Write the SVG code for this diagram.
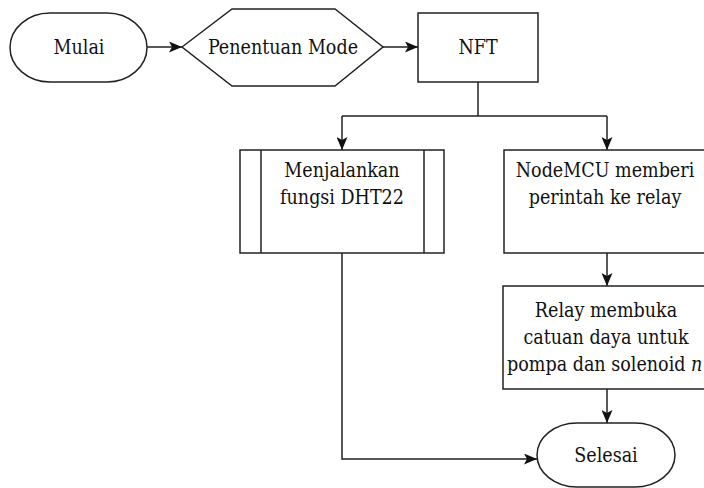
<svg xmlns="http://www.w3.org/2000/svg" width="704" height="488" viewBox="0 0 704 488">
<style>
.s{fill:#fff;stroke:#222;stroke-width:1.5}
.c{fill:none;stroke:#222;stroke-width:1.5}
</style>
<defs>
<marker id="ah" viewBox="0 0 13 11" refX="13" refY="5.5" markerWidth="13" markerHeight="11" markerUnits="userSpaceOnUse" orient="auto">
<path d="M0,0 L13,5.5 L0,11 L3,5.5 Z" fill="#111"/>
</marker>
</defs>
<rect width="704" height="488" fill="#fff"/>
<g id="connectors">
<path class="c" d="M147,47 H182" marker-end="url(#ah)"/>
<path class="c" d="M383,47 H418" marker-end="url(#ah)"/>
<path class="c" d="M478,82 V116"/>
<path class="c" d="M342,116 H607"/>
<path class="c" d="M342,116 V150" marker-end="url(#ah)"/>
<path class="c" d="M607,116 V150" marker-end="url(#ah)"/>
<path class="c" d="M607,253 V286" marker-end="url(#ah)"/>
<path class="c" d="M607,389 V423" marker-end="url(#ah)"/>
<path class="c" d="M342,253 V459 H537" marker-end="url(#ah)"/>
</g>
<g font-family="DejaVu Serif Condensed, DejaVu Serif, serif" font-stretch="condensed" font-size="19.5" fill="#111" text-anchor="middle">
<g id="mulai">
<rect class="s" x="10" y="13" width="137" height="69" rx="40" ry="34.5"/>
<text x="79" y="54">Mulai</text>
</g>
<g id="penentuan-mode">
<polygon class="s" points="182,47 232,9 335,9 383,47 335,86 232,86"/>
<text x="283" y="54">Penentuan Mode</text>
</g>
<g id="nft">
<rect class="s" x="418" y="13" width="120" height="69"/>
<text x="478" y="54">NFT</text>
</g>
<g id="dht22">
<rect class="s" x="240" y="150" width="204" height="103"/>
<path class="c" d="M261,150 V253 M424,150 V253"/>
<text x="342" y="177">Menjalankan</text>
<text x="342" y="204">fungsi DHT22</text>
</g>
<g id="nodemcu">
<rect class="s" x="504" y="150" width="210" height="103"/>
<text x="605" y="177">NodeMCU memberi</text>
<text x="605" y="204">perintah ke relay</text>
</g>
<g id="relay">
<rect class="s" x="503" y="286" width="211" height="103"/>
<text x="606" y="317">Relay membuka</text>
<text x="606" y="344">catuan daya untuk</text>
<text x="507" y="371" text-anchor="start">pompa dan solenoid <tspan font-style="italic">n</tspan></text>
</g>
<g id="selesai">
<rect class="s" x="537" y="423" width="138" height="64" rx="40" ry="32"/>
<text x="606" y="462">Selesai</text>
</g>
</g>
</svg>
